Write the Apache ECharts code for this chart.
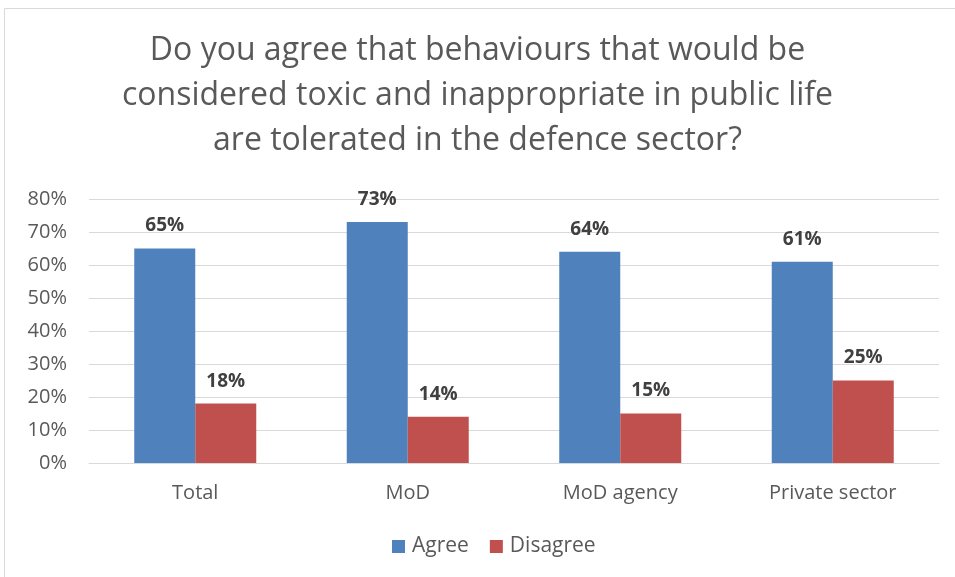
<!DOCTYPE html>
<html>
<head>
<meta charset="utf-8">
<script src="https://cdn.jsdelivr.net/npm/echarts@6/dist/echarts.min.js"></script>
<style>
 html, body { margin: 0; padding: 0; background: #fff; }
 #chart { width: 955px; height: 577px; }
</style>
</head>
<body>
<div id="chart"></div>
<script>
const categories = ['Total', 'MoD', 'MoD agency', 'Private sector']
const agree = [65, 73, 64, 61]
const disagree = [18, 14, 15, 25]
const yTicks = [0, 10, 20, 30, 40, 50, 60, 70, 80]

const font = '"Open Sans", sans-serif'
const labelStyle = {
 show: true,
 position: 'top',
 distance: 13,
 formatter: p => p.value + '%',
 color: '#404040',
 fontWeight: 'bold',
 fontSize: 19,
 fontFamily: font
}

const chart = echarts.init(document.getElementById('chart'))
chart.setOption({
 animation: false,
 title: {
  text: 'Do you agree that behaviours that would be\nconsidered toxic and inappropriate in public life\nare tolerated in the defence sector?',
  left: 'center',
  top: 23,
  textStyle: {
   fontFamily: font,
   fontWeight: 'normal',
   fontSize: 32,
   lineHeight: 45,
   color: '#595959'
  }
 },
 graphic: [{
  type: 'rect',
  shape: { x: 4.5, y: 8.5, width: 1000, height: 1000 },
  style: { fill: 'none', stroke: '#d9d9d9', lineWidth: 1 },
  silent: true
 }],
 legend: {
  bottom: 15,
  left: 387,
  itemWidth: 13,
  itemHeight: 13,
  itemGap: 21,
  icon: 'rect',
  textStyle: { fontFamily: font, fontSize: 21, color: '#595959', padding: [0, 0, 0, 2] }
 },
 grid: { left: 89, right: 16, top: 199, bottom: 114, containLabel: false },
 xAxis: {
  type: 'category',
  data: categories,
  axisLine: { lineStyle: { color: '#d9d9d9', width: 1 } },
  axisTick: { show: false },
  axisLabel: { fontFamily: font, fontSize: 20, color: '#595959', margin: 20 }
 },
 yAxis: {
  type: 'value',
  min: yTicks[0],
  max: yTicks[yTicks.length - 1],
  interval: 10,
  axisLine: { show: false },
  axisTick: { show: false },
  axisLabel: { fontFamily: font, fontSize: 20, color: '#595959', margin: 22, formatter: v => v + '%' },
  splitLine: { lineStyle: { color: '#d9d9d9', width: 1 } }
 },
 series: [
  {
   name: 'Agree',
   type: 'bar',
   data: agree,
   barWidth: 61,
   barGap: '0%',
   itemStyle: { color: '#4f81bd' },
   label: labelStyle
  },
  {
   name: 'Disagree',
   type: 'bar',
   data: disagree,
   barWidth: 61,
   itemStyle: { color: '#c0504d' },
   label: labelStyle
  }
 ]
})
</script>
</body>
</html>
